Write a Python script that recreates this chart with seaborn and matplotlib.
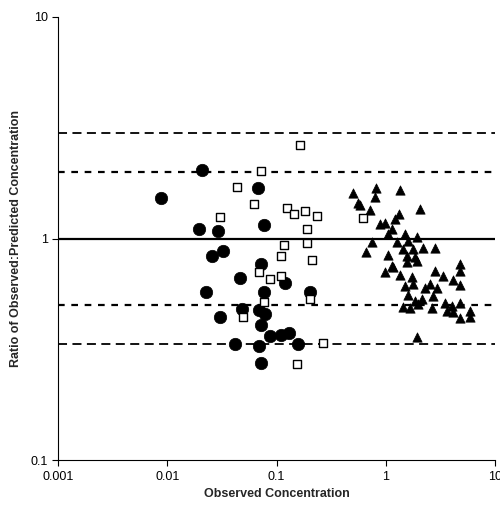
import matplotlib
matplotlib.use("Agg")
import matplotlib.pyplot as plt
import seaborn as sns
import pandas as pd
from matplotlib.ticker import FixedLocator, FixedFormatter, NullLocator

sns.set_theme(style="white")
plt.rcParams['font.family'] = ['Liberation Sans', 'DejaVu Sans']

circ_x = [0.0087,0.0208,0.0196,0.0290,0.0673,0.0773,0.0324,0.0258,0.0717,0.0460,0.1205,0.0228,0.0773,0.203,
          0.0486,0.0687,0.078,0.0304,0.0717,0.0867,0.1107,0.130,0.0417,0.0696,0.158,0.0717]
circ_y = [1.52,2.04,1.11,1.08,1.69,1.15,0.88,0.83,0.765,0.664,0.63,0.574,0.574,0.575,
          0.48,0.476,0.458,0.442,0.407,0.362,0.367,0.373,0.334,0.328,0.334,0.275]
sq_x = [0.163,0.0717,0.0438,0.0622,0.0306,0.124,0.1445,0.181,0.233,0.191,0.191,0.117,0.1107,0.213,
        0.0696,0.0867,0.1107,0.203,0.0773,0.0489,0.265,0.155,0.62]
sq_y = [2.64,2.01,1.71,1.43,1.25,1.38,1.29,1.33,1.27,1.10,0.955,0.94,0.836,0.80,
        0.71,0.656,0.675,0.535,0.515,0.444,0.339,0.272,1.24]
tri_x = [0.498,0.561,0.581,0.814,0.797,1.34,2.07,0.718,1.33,1.215,0.886,0.984,1.13,1.055,1.50,1.92,
         0.744,1.275,1.61,0.66,2.21,2.82,1.45,1.79,1.055,1.555,1.85,1.555,1.92,1.13,0.984,1.17,
         4.78,4.78,2.82,1.35,1.73,3.36,4.15,1.50,1.79,2.54,4.78,2.29,2.93,1.61,2.72,1.85,2.13,
         1.99,1.45,1.67,2.63,3.49,4.02,4.78,3.61,4.15,5.90,4.78,5.90,1.92]
tri_y = [1.605,1.44,1.41,1.69,1.54,1.66,1.36,1.34,1.29,1.23,1.16,1.175,1.11,1.05,1.05,1.02,
         0.96,0.967,0.977,0.866,0.906,0.906,0.897,0.897,0.842,0.836,0.823,0.781,0.794,0.754,0.708,0.741,
         0.767,0.716,0.716,0.684,0.672,0.679,0.652,0.612,0.623,0.623,0.617,0.596,0.596,0.556,0.552,0.524,0.533,
         0.506,0.489,0.484,0.484,0.511,0.497,0.511,0.472,0.464,0.472,0.436,0.441,0.358]

fig = plt.figure(figsize=(5, 5.13), dpi=100)
ax = fig.add_axes([0.116, 0.103, 0.874, 0.864])

for yv, ls, lw in [(3, (0, (5, 3)), 1.3), (2, (0, (3, 3)), 1.6), (1, '-', 1.6),
                   (0.5, (0, (3, 3)), 1.6), (1/3, (0, (5, 3)), 1.3)]:
    ax.axhline(yv, color='black', linestyle=ls, linewidth=lw, zorder=1)

sns.scatterplot(x=tri_x, y=tri_y, marker='^', s=45, color='black', edgecolor='black', linewidth=0.5, ax=ax, zorder=3)
sns.scatterplot(x=circ_x, y=circ_y, marker='o', s=80, color='black', edgecolor='black', linewidth=0.5, ax=ax, zorder=3)
sns.scatterplot(x=sq_x, y=sq_y, marker='s', s=35, facecolor='white', edgecolor='black', linewidth=1.0, ax=ax, zorder=4)

ax.set_xscale('log'); ax.set_yscale('log')
ax.set_xlim(0.001, 10); ax.set_ylim(0.1, 10)
ax.xaxis.set_major_locator(FixedLocator([0.001, 0.01, 0.1, 1, 10]))
ax.xaxis.set_major_formatter(FixedFormatter(['0.001', '0.01', '0.1', '1', '10']))
ax.yaxis.set_major_locator(FixedLocator([0.1, 1, 10]))
ax.yaxis.set_major_formatter(FixedFormatter(['0.1', '1', '10']))
ax.xaxis.set_minor_locator(NullLocator()); ax.yaxis.set_minor_locator(NullLocator())
ax.tick_params(axis='both', which='major', direction='out', length=4, width=0.8, labelsize=9, colors='black')
ax.tick_params(bottom=True, left=True)
for side in ['top', 'right']:
    ax.spines[side].set_visible(False)
for side in ['left', 'bottom']:
    ax.spines[side].set_color('black'); ax.spines[side].set_linewidth(0.8)
ax.set_xlabel('Observed Concentration', fontsize=9, fontweight='bold', labelpad=4)
ax.set_ylabel('Ratio of Observed:Predicted Concentration', fontsize=9, fontweight='bold', labelpad=6)
fig.savefig('out.png', dpi=100)
